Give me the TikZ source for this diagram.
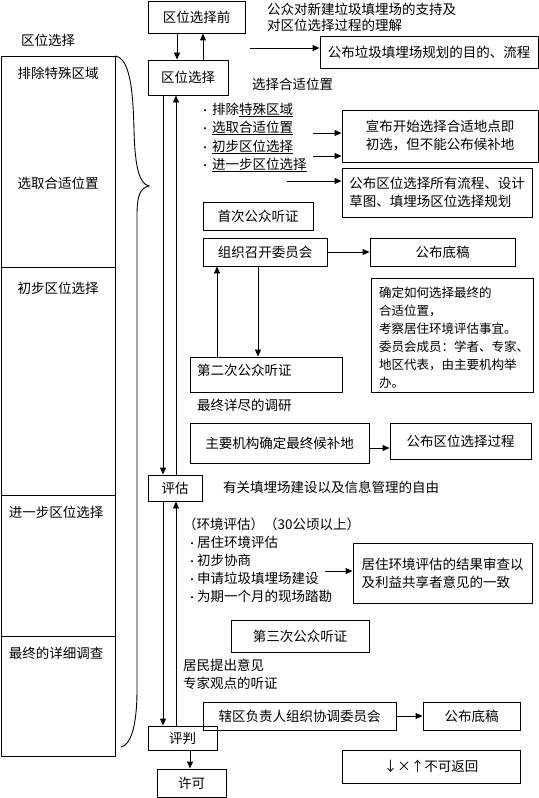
\documentclass[tikz,border=0pt]{standalone}
\usepackage{fontspec}
\setmainfont{Noto Sans CJK SC}
\usetikzlibrary{arrows.meta}
\tikzset{
  box/.style={draw, line width=0.9bp, inner sep=0pt, align=center},
  lbox/.style={box, align=left},
  txt/.style={inner sep=0pt, anchor=west, align=left},
  arr/.style={line width=0.9bp, -{Triangle[length=7bp,width=6bp]}},
  ln/.style={line width=0.9bp},
}
\newcommand\bx[7][box]{\node[#1, minimum width={(#5-#3)*1bp}, minimum height={(#6-#4)*1bp}] (#2) at ({(#3+#5)/2},{(#4+#6)/2}) {#7};}
\newcommand\bul[1]{\makebox[#1][l]{\fontsize{10bp}{10bp}\selectfont •}}
\begin{document}
\begin{tikzpicture}[x=1bp,y=-1bp,font=\fontsize{13.5bp}{18bp}\selectfont]
\useasboundingbox (0,0) rectangle (539,798);
% left column
\draw[ln] (1,56) rectangle (115,756);
\draw[ln] (1,267) -- (115,267);
\draw[ln] (1,495) -- (115,495);
\draw[ln] (1,636) -- (115,636);
\node (L0) at (48,40) {区位选择};
\node (L1) at (58,73) {排除特殊区域};
\node (L2) at (58,183) {选取合适位置};
\node (L3) at (58,288) {初步区位选择};
\node (L4) at (56,512) {进一步区位选择};
\node (L5) at (56,653) {最终的详细调查};
% brace
\draw[ln] (115,56) .. controls (130,58) and (133,90) .. (134,130)
  .. controls (135,170) and (140,184) .. (149,186)
  .. controls (140,188) and (137,196) .. (137,215) -- (137,690)
  .. controls (137,725) and (131,745) .. (121,747);
% boxes
\bx{pre}{148}{1}{245}{33}{区位选择前}
\bx{sel}{148}{60}{228}{95}{区位选择}
\bx{purpose}{320}{36}{538}{68}{公布垃圾填埋场规划的目的、流程}
\bx[lbox]{announce}{342}{110}{538}{162}{宣布开始选择合适地点即\\初选，但不能公布候补地}
\bx[lbox]{puball}{342}{168}{532}{217}{公布区位选择所有流程、设计\\草图、填埋场区位选择规划}
\bx{first}{203}{202}{313}{230}{首次公众听证}
\bx{committee}{203}{238}{327}{266}{组织召开委员会}
\bx{draftA}{370}{238}{515}{266}{公布底稿}
\bx{second}{190}{357}{342}{392}{}
\bx{decide}{371}{278}{533}{392}{}
\bx{agency}{190}{423}{369}{463}{主要机构确定最终候补地}
\bx{pubproc}{390}{423}{531}{459}{公布区位选择过程}
\bx{evalb}{148}{475}{202}{501}{评估}
\bx[lbox]{envres}{353}{543}{532}{603}{居住环境评估的结果审查以\\及利益共享者意见的一致}
\bx{third}{231}{620}{369}{652}{第三次公众听证}
\bx{coord}{203}{702}{396}{730}{辖区负责人组织协调委员会}
\bx{draftB}{423}{702}{520}{730}{公布底稿}
\bx{judge}{148}{726}{217}{750}{评判}
\bx{permit}{157}{769}{226}{797}{许可}
\bx{noret}{342}{750}{520}{783}{↓×↑不可返回}
% texts
\node[txt] (t1) at (267,9) {公众对新建垃圾填埋场的支持及};
\node[txt] (t2) at (267,25) {对区位选择过程的理解};
\node[txt] (t3) at (252,84) {选择合适位置};
\node[txt] (b1) at (200,110) {\bul{12bp}排除\underline{特殊区域}};
\node[txt] (b2) at (200,128) {\bul{12bp}\underline{选取合适位置}};
\node[txt] (b3) at (200,147) {\bul{12bp}\underline{初步区位选择}};
\node[txt] (b4) at (200,165) {\bul{12bp}\underline{进一步区位选择}};
\node[txt] (t4) at (197,370) {第二次公众听证};
\node[txt, font=\fontsize{12.5bp}{18bp}\selectfont] (t5) at (379,338) {确定如何选择最终的\\合适位置，\\考察居住环境评估事宜。\\委员会成员：学者、专家、\\地区代表，由主要机构举\\办。};
\node[txt] (t6) at (197,405) {最终详尽的调研};
\node[txt] (t7) at (223,487) {有关填埋场建设以及信息管理的自由};
\node[txt] (t8) at (183,524) {（环境评估）（30公顷以上）};
\node[txt] (e1) at (187,542) {\bul{10bp}居住环境评估};
\node[txt] (e2) at (187,560) {\bul{10bp}初步协商};
\node[txt] (e3) at (187,578) {\bul{10bp}申请垃圾填埋场建设};
\node[txt] (e4) at (187,596) {\bul{10bp}为期一个月的现场踏勘};
\node[txt] (t9) at (183,665) {居民提出意见};
\node[txt] (t10) at (183,683) {专家观点的听证};
% connectors
\draw[arr] (pre.south -| 177,0) -- (sel.north -| 177,0);
\draw[arr] (sel.north -| 203,0) -- (pre.south -| 203,0);
\coordinate (p0) at (250,48);
\draw[arr] (p0) -- (p0 -| purpose.west);
\coordinate (a1) at (313,133);
\draw[arr] (a1) -- (a1 -| announce.west);
\coordinate (a2) at (313,156);
\draw[arr] (a2) -- (a2 -| announce.west);
\coordinate (a3) at (287,181);
\draw[arr] (a3) -- (a3 -| puball.west);
\draw[arr] (committee.east) -- (draftA.west);
\draw[arr] (second.north -| 217,0) -- (committee.south -| 217,0);
\draw[arr] (committee.south -| 258,0) -- (second.north -| 258,0);
\draw[arr] (agency.east |- 0,448) -- (pubproc.west |- 0,448);
\draw[arr] (sel.south -| 163,0) -- (evalb.north -| 163,0);
\draw[arr] (evalb.north -| 176,0) -- (sel.south -| 176,0);
\draw[arr] (evalb.south -| 163,0) -- (judge.north -| 163,0);
\draw[arr] (judge.north -| 176,0) -- (evalb.south -| 176,0);
\coordinate (a5) at (325,571);
\draw[arr] (a5) -- (a5 -| envres.west);
\draw[arr] (coord.east) -- (draftB.west);
\draw[arr] (judge.south -| 190,0) -- (permit.north -| 190,0);
\end{tikzpicture}
\end{document}
